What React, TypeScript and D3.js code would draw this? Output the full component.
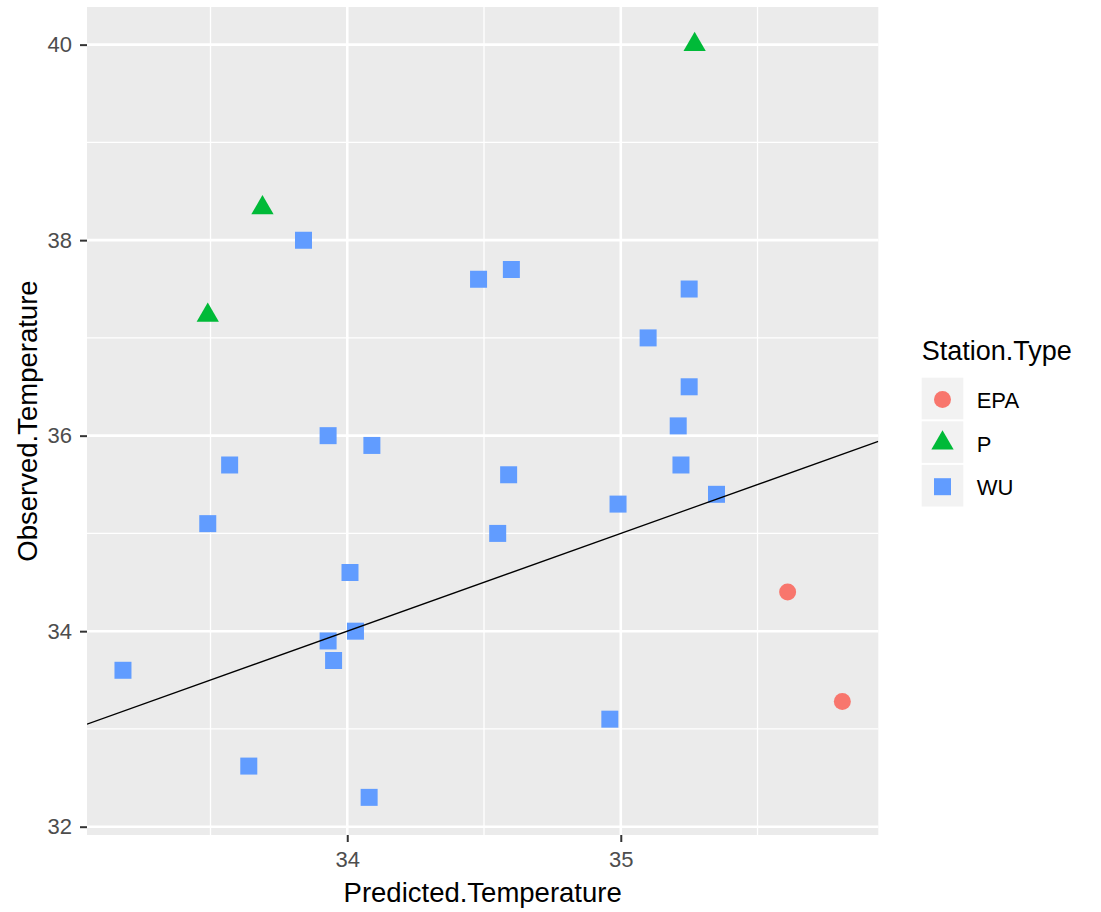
import React, { useEffect, useRef } from "react";
import * as d3 from "d3";

// station types in legend order
const stationTypes = ["EPA", "P", "WU"];
const stationColors = ["#F8766D", "#00BA38", "#619CFF"];

// Predicted / observed pairs, one pair of arrays per station type
const epaPredicted = [35.61, 35.81];
const epaObserved = [34.4, 33.28];

const pPredicted = [35.27, 33.69, 33.49];
const pObserved = [40.0, 38.33, 37.23];

const wuPredicted = [
  33.18, 33.64, 33.49, 33.57, 33.84, 33.93, 34.09, 34.01, 33.93, 33.95, 34.03,
  34.08, 34.48, 34.6, 34.59, 34.55, 34.99, 34.96, 35.1, 35.25, 35.25, 35.21,
  35.22, 35.35,
];
const wuObserved = [
  33.6, 32.62, 35.1, 35.7, 38.0, 36.0, 35.9, 34.6, 33.9, 33.7, 34.0, 32.3, 37.6,
  37.7, 35.6, 35.0, 35.3, 33.1, 37.0, 37.5, 36.5, 36.1, 35.7, 35.4,
];

const xMajorTicks = [34, 35];
const xMinorTicks = [33.5, 34.5, 35.5];
const yMajorTicks = [32, 34, 36, 38, 40];
const yMinorTicks = [33, 35, 37, 39];

// reference line y = x
const ablineIntercept = 0;
const ablineSlope = 1;

const App = () => {
  const chartRef = useRef(null);

  useEffect(() => {
    drawChart();
  }, []);

  const drawChart = () => {
    const width = 1101;
    const height = 912;
    const panel = { left: 87, right: 878.3, top: 7, bottom: 835 };
    const font = "'Liberation Sans', Arial, sans-serif";

    const points = [
      ...epaPredicted.map((x, i) => ({ x, y: epaObserved[i], type: "EPA" })),
      ...pPredicted.map((x, i) => ({ x, y: pObserved[i], type: "P" })),
      ...wuPredicted.map((x, i) => ({ x, y: wuObserved[i], type: "WU" })),
    ];

    // ggplot style 5% expansion
    const expand = (ext) => {
      const pad = (ext[1] - ext[0]) * 0.05;
      return [ext[0] - pad, ext[1] + pad];
    };

    const x = d3
      .scaleLinear()
      .domain(expand(d3.extent(points, (d) => d.x)))
      .range([panel.left, panel.right]);
    const y = d3
      .scaleLinear()
      .domain(expand(d3.extent(points, (d) => d.y)))
      .range([panel.bottom, panel.top]);

    const color = d3.scaleOrdinal().domain(stationTypes).range(stationColors);
    const shape = d3
      .scaleOrdinal()
      .domain(stationTypes)
      .range([
        d3.symbol().type(d3.symbolCircle).size(Math.PI * 8.5 * 8.5),
        d3.symbol().type(d3.symbolTriangle).size(215),
        d3.symbol().type(d3.symbolSquare).size(17 * 17),
      ]);

    const svg = d3
      .select(chartRef.current)
      .attr("width", width)
      .attr("height", height);
    svg.selectAll("*").remove();

    svg
      .append("rect")
      .attr("width", width)
      .attr("height", height)
      .attr("fill", "#ffffff");

    svg
      .append("rect")
      .attr("x", panel.left)
      .attr("y", panel.top)
      .attr("width", panel.right - panel.left)
      .attr("height", panel.bottom - panel.top)
      .attr("fill", "#EBEBEB");

    svg
      .append("clipPath")
      .attr("id", "panel-clip")
      .append("rect")
      .attr("x", panel.left)
      .attr("y", panel.top)
      .attr("width", panel.right - panel.left)
      .attr("height", panel.bottom - panel.top);

    const grid = svg.append("g").attr("stroke", "#ffffff");

    // minor grid
    grid
      .selectAll(".xminor")
      .data(xMinorTicks)
      .join("line")
      .attr("x1", (d) => x(d))
      .attr("x2", (d) => x(d))
      .attr("y1", panel.top)
      .attr("y2", panel.bottom)
      .attr("stroke-width", 1.3);
    grid
      .selectAll(".yminor")
      .data(yMinorTicks)
      .join("line")
      .attr("x1", panel.left)
      .attr("x2", panel.right)
      .attr("y1", (d) => y(d))
      .attr("y2", (d) => y(d))
      .attr("stroke-width", 1.3);

    // major grid
    grid
      .selectAll(".xmajor")
      .data(xMajorTicks)
      .join("line")
      .attr("x1", (d) => x(d))
      .attr("x2", (d) => x(d))
      .attr("y1", panel.top)
      .attr("y2", panel.bottom)
      .attr("stroke-width", 2.6);
    grid
      .selectAll(".ymajor")
      .data(yMajorTicks)
      .join("line")
      .attr("x1", panel.left)
      .attr("x2", panel.right)
      .attr("y1", (d) => y(d))
      .attr("y2", (d) => y(d))
      .attr("stroke-width", 2.6);

    // points
    svg
      .append("g")
      .attr("clip-path", "url(#panel-clip)")
      .selectAll("path")
      .data(points)
      .join("path")
      .attr("transform", (d) => `translate(${x(d.x)},${y(d.y)})`)
      .attr("d", (d) => shape(d.type)())
      .attr("fill", (d) => color(d.type));

    // y = x line drawn on top
    const xd = x.domain();
    const line = d3
      .line()
      .x((d) => x(d))
      .y((d) => y(ablineIntercept + ablineSlope * d));
    svg
      .append("path")
      .attr("clip-path", "url(#panel-clip)")
      .attr("d", line(xd))
      .attr("fill", "none")
      .attr("stroke", "#000000")
      .attr("stroke-width", 1.3);

    // x axis
    const xAxis = svg
      .append("g")
      .attr("transform", `translate(0,${panel.bottom})`)
      .call(
        d3
          .axisBottom(x)
          .tickValues(xMajorTicks)
          .tickFormat(d3.format("d"))
          .tickSize(7)
          .tickPadding(9)
      );
    xAxis.select(".domain").remove();
    xAxis.selectAll(".tick line").attr("stroke", "#333333").attr("stroke-width", 2);
    xAxis
      .selectAll(".tick text")
      .attr("fill", "#4D4D4D")
      .attr("font-size", 22)
      .attr("font-family", font);

    // y axis
    const yAxis = svg
      .append("g")
      .attr("transform", `translate(${panel.left},0)`)
      .call(
        d3
          .axisLeft(y)
          .tickValues(yMajorTicks)
          .tickFormat(d3.format("d"))
          .tickSize(7)
          .tickPadding(8)
      );
    yAxis.select(".domain").remove();
    yAxis.selectAll(".tick line").attr("stroke", "#333333").attr("stroke-width", 2);
    yAxis
      .selectAll(".tick text")
      .attr("fill", "#4D4D4D")
      .attr("font-size", 22)
      .attr("font-family", font);

    // axis titles
    svg
      .append("text")
      .attr("x", (panel.left + panel.right) / 2)
      .attr("y", 902)
      .attr("text-anchor", "middle")
      .attr("font-size", 27.5)
      .attr("font-family", font)
      .attr("fill", "#000000")
      .text("Predicted.Temperature");

    svg
      .append("text")
      .attr("transform", `translate(37,${(panel.top + panel.bottom) / 2}) rotate(-90)`)
      .attr("text-anchor", "middle")
      .attr("font-size", 27.5)
      .attr("font-family", font)
      .attr("fill", "#000000")
      .text("Observed.Temperature");

    // legend
    const legend = svg.append("g").attr("transform", "translate(921.7,0)");
    legend
      .append("text")
      .attr("x", 0)
      .attr("y", 360)
      .attr("font-size", 27)
      .attr("font-family", font)
      .attr("fill", "#000000")
      .text("Station.Type");

    const keySize = 41.6;
    const keyStep = 43.6;
    const keys = legend
      .selectAll(".key")
      .data(stationTypes)
      .join("g")
      .attr("transform", (d, i) => `translate(0,${377.7 + i * keyStep})`);
    keys
      .append("rect")
      .attr("width", keySize)
      .attr("height", keySize)
      .attr("fill", "#F2F2F2");
    keys
      .append("path")
      .attr("transform", `translate(${keySize / 2},${keySize / 2 + 1})`)
      .attr("d", (d) => shape(d)())
      .attr("fill", (d) => color(d));
    keys
      .append("text")
      .attr("x", 55)
      .attr("y", keySize / 2 + 2)
      .attr("dy", "0.35em")
      .attr("font-size", 22)
      .attr("font-family", font)
      .attr("fill", "#000000")
      .text((d) => d);
  };

  return (
    <svg
      ref={chartRef}
      style={{ position: "absolute", left: 0, top: 0, display: "block" }}
    ></svg>
  );
};

export default App;
